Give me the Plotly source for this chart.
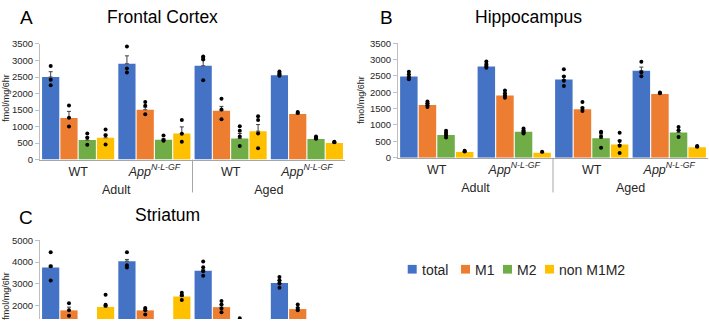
import plotly.graph_objects as go

W, H = 709, 324

ages = ["Adult", "Adult", "Aged", "Aged"]
genos = ["WT", "<i>App<sup>N-L-GF</sup></i>", "WT", "<i>App<sup>N-L-GF</sup></i>"]
series = ["total", "M1", "M2", "non M1M2"]
colors = ["#4472C4", "#ED7D31", "#70AD47", "#FFC000"]

# ---- Frontal Cortex (A) ----
fc_mean = [[2500, 2900, 2840, 2550],
           [1260, 1510, 1480, 1380],
           [590, 600, 640, 620],
           [660, 790, 860, 500]]
fc_err = [[160, 240, 180, 30],
          [200, 80, 130, 20],
          [90, 30, 150, 25],
          [110, 200, 200, 20]]
fc_pts = [[[2830, 2420, 2250], [3420, 2760, 2640], [3120, 3080, 3030, 2400], [2670, 2620, 2590, 2540]],
          [[1640, 1270, 1000], [1740, 1630, 1370], [1840, 1520, 1220], [1440, 1410]],
          [[790, 660, 450], [730, 590, 570], [1010, 870, 700, 410], [700, 650, 630]],
          [[910, 740, 460], [1200, 780, 540], [1310, 1200, 790, 340], [540, 525]]]

# ---- Hippocampus (B) ----
hc_mean = [[2480, 2790, 2390, 2660],
           [1610, 1900, 1480, 1950],
           [690, 790, 590, 770],
           [170, 150, 400, 320]]
hc_err = [[60, 50, 110, 110],
          [50, 50, 60, 15],
          [40, 30, 100, 60],
          [15, 10, 130, 15]]
hc_pts = [[[2630, 2540, 2450, 2400], [2940, 2860, 2800, 2750], [2700, 2480, 2350, 2190], [2930, 2610, 2490]],
          [[1720, 1660, 1600, 1550], [2050, 1970, 1890, 1830], [1700, 1520, 1430], [1990, 1970]],
          [[820, 760, 690, 620], [890, 830, 780, 740], [790, 760, 640, 300], [940, 840, 630]],
          [[215, 185], [180], [760, 510, 365, 140], [355, 335]]]

# ---- Striatum (C) ----
st_mean = [[3750, 4040, 3600, 3030],
           [1760, 1760, 1910, 1820],
           [900, 950, 1000, 1000],
           [1920, 2400, 1100, 1050]]
st_err = [[100, 80, 60, 100],
          [150, 80, 110, 70],
          [80, 80, 150, 90],
          [60, 80, 90, 80]]
st_pts = [[[4450, 3800, 3150], [4450, 3850, 3750], [4030, 3760, 3570, 3370], [3310, 3160, 3000, 2810]],
          [[2090, 1760, 1510], [1870, 1760, 1570], [2190, 2030, 1850, 1670], [2030, 1870, 1760]],
          [[1000, 900, 800], [1050, 950, 850], [1400, 1000, 800, 700], [1150, 1000, 850]],
          [[2480, 2020, 1970], [2580, 2460, 2240], [1200, 1050, 900], [1200, 1050, 900]]]

FONT = "Liberation Sans, Arial, sans-serif"
TXT = "#262626"

fig = go.Figure()

panels = [("x", "y", fc_mean, fc_err, fc_pts),
          ("x2", "y2", hc_mean, hc_err, hc_pts),
          ("x3", "y3", st_mean, st_err, st_pts)]

for xa, ya, means, errs, pts in panels:
    for s, name in enumerate(series):
        fig.add_trace(go.Bar(
            x=[ages, genos], y=means[s], name=name, marker_color=colors[s],
            marker_line_width=0, offsetgroup=name, showlegend=False,
            error_y=dict(type="data", array=errs[s], arrayminus=[0] * 4, symmetric=False,
                         color="#404040", thickness=1, width=2),
            xaxis=xa, yaxis=ya))
    for s, name in enumerate(series):
        xs0, xs1, ys = [], [], []
        for g in range(4):
            for v in pts[s][g]:
                xs0.append(ages[g]); xs1.append(genos[g]); ys.append(v)
        fig.add_trace(go.Scatter(
            x=[xs0, xs1], y=ys, mode="markers", offsetgroup=name, showlegend=False,
            marker=dict(size=4, color="black"), xaxis=xa, yaxis=ya))


def px(v):
    return v / W


def py(v):
    return 1 - v / H


xdomA = [px(40), px(345)]
xdomB = [px(398), px(708)]

xcommon = dict(type="multicategory", showline=True, linecolor="#A6A6A6", linewidth=1,
               ticks="", showgrid=False, tickfont=dict(size=12.5, color=TXT, family=FONT),
               showdividers=False)
ycommon = dict(showline=True, linecolor="#BFBFBF", linewidth=1, ticks="outside", ticklen=4,
               tickcolor="#BFBFBF", showgrid=False, zeroline=False,
               tickfont=dict(size=9.5, color=TXT, family=FONT))

fig.update_layout(
    width=W, height=H, margin=dict(l=0, r=0, t=0, b=0),
    paper_bgcolor="white", plot_bgcolor="white",
    barmode="group", bargap=0.04, bargroupgap=0.06,
    scattermode="group", scattergap=0.04,
    font=dict(family=FONT, color=TXT),
    xaxis=dict(domain=xdomA, anchor="y", **xcommon),
    yaxis=dict(domain=[py(159), py(39.3)], anchor="x", range=[0, 3500], dtick=500, **ycommon),
    xaxis2=dict(domain=xdomB, anchor="y2", **xcommon),
    yaxis2=dict(domain=[py(157), py(38.5)], anchor="x2", range=[0, 3500], dtick=500, **ycommon),
    xaxis3=dict(domain=xdomA, anchor="y3", type="multicategory", visible=False,
                showdividers=False),
    yaxis3=dict(domain=[0, py(242.7)], anchor="x3", range=[1360, 5000], dtick=1000, **ycommon),
)

ann = []
# panel letters and titles
for txt, x, y, sz in [("A", 26.5, 12, 19), ("B", 386, 12, 19), ("C", 26.5, 219, 19),
                      ("Frontal Cortex", 162.5, 11, 17.5), ("Hippocampus", 528, 11, 17.5),
                      ("Striatum", 167, 216, 17.5)]:
    ann.append(dict(text=txt, x=px(x), y=py(y), xref="paper", yref="paper", showarrow=False,
                    xanchor="center", yanchor="middle", font=dict(size=sz, color="black", family=FONT)))
# y-axis titles
for x, y in [(6, 95), (361, 97), (6, 300)]:
    ann.append(dict(text="fmol/mg/6hr", x=px(x), y=py(y), xref="paper", yref="paper", showarrow=False,
                    textangle=-90, xanchor="center", yanchor="middle",
                    font=dict(size=9, color=TXT, family=FONT)))

shapes = []
# divider between Adult and Aged groups (below the category axis)
for dom, ytop in [(xdomA, 159), (xdomB, 157)]:
    xm = (dom[0] + dom[1]) / 2
    shapes.append(dict(type="line", xref="paper", yref="paper", x0=xm, x1=xm,
                       y0=py(ytop), y1=py(193), line=dict(color="#A6A6A6", width=1)))

# legend (manual)
leg_sq = [407.7, 461, 503, 545]
for s, name in enumerate(series):
    x0 = leg_sq[s]
    shapes.append(dict(type="rect", xref="paper", yref="paper", x0=px(x0), x1=px(x0 + 9),
                       y0=py(277), y1=py(268), fillcolor=colors[s], line_width=0))
    ann.append(dict(text=name, x=px(x0 + 12), y=py(273), xref="paper", yref="paper", showarrow=False,
                    xanchor="left", yanchor="middle", font=dict(size=14, color=TXT, family=FONT)))

fig.update_layout(annotations=ann, shapes=shapes)
fig.write_html("out.html")
